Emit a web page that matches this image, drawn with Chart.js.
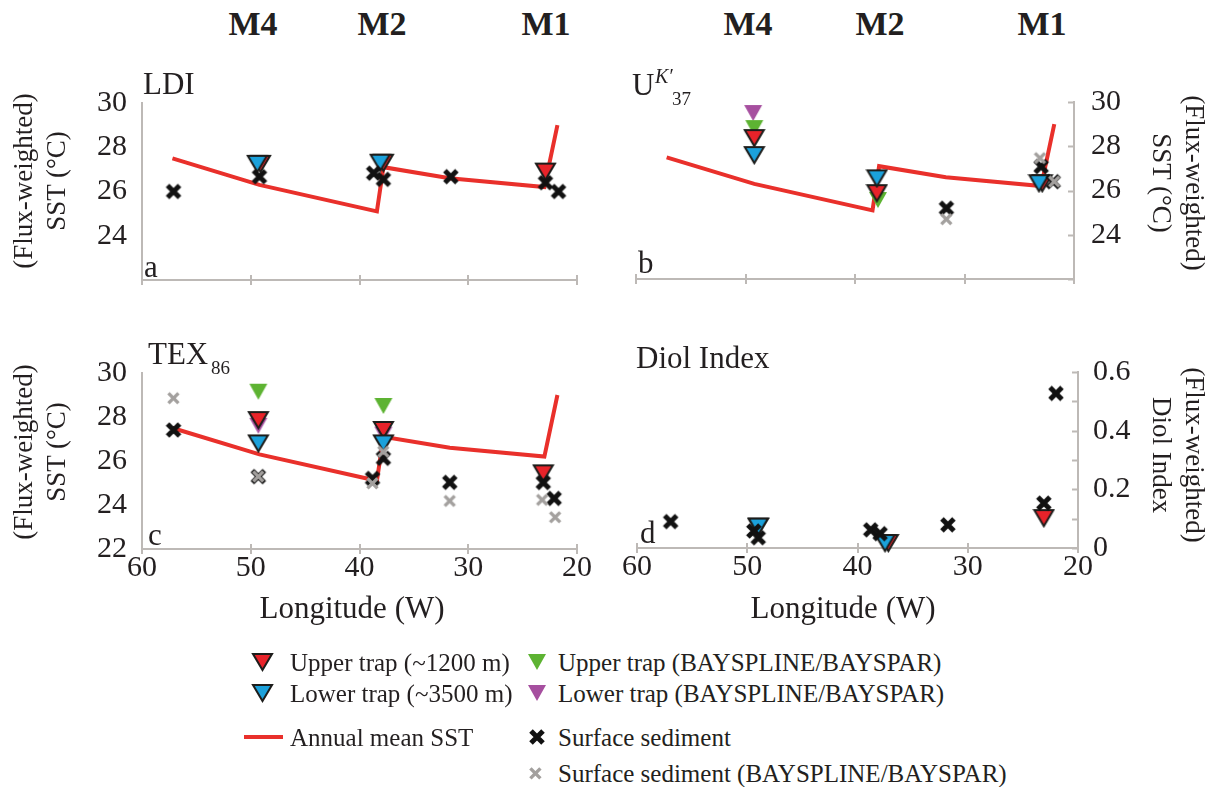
<!DOCTYPE html>
<html>
<head>
<meta charset="utf-8">
<script src="https://cdn.jsdelivr.net/npm/chart.js@4.4.1/dist/chart.umd.min.js"></script>
<style>
  html, body { margin: 0; padding: 0; background: #ffffff; }
  #fig { position: relative; width: 1217px; height: 787px; overflow: hidden; background: #ffffff;
         font-family: "Liberation Serif", "Times New Roman", serif; color: #231f20; }
  .cv { position: absolute; }
  .t { position: absolute; white-space: nowrap; line-height: 1; }
</style>
</head>
<body>
<div id="fig">
  <canvas id="cA" class="cv" width="600" height="240" style="left:0px;top:60px"></canvas>
  <canvas id="cB" class="cv" width="617" height="240" style="left:600px;top:60px"></canvas>
  <canvas id="cC" class="cv" width="600" height="300" style="left:0px;top:330px"></canvas>
  <canvas id="cD" class="cv" width="617" height="300" style="left:600px;top:330px"></canvas>
</div>
<script>
// ---- axis ticks ----
const lonTicks = [60, 50, 40, 30, 20];
const sstTicksAB = [22, 24, 26, 28, 30];
const sstLabelsAB = [24, 26, 28, 30];
const sstTicksC = [22, 24, 26, 28, 30];
const sstLabelsC = [22, 24, 26, 28, 30];
const diolTicks = [0, 0.1, 0.2, 0.3, 0.4, 0.5, 0.6];
const diolLabels = [0, 0.2, 0.4, 0.6];

// ---- annual mean SST along the transect (°W, °C) ----
const sstLon  = [57.2, 49.2, 38.4, 37.8, 31.7, 23.0, 21.8];
const sstMean = [27.5, 26.3, 25.1, 27.1, 26.6, 26.2, 29.0];

// ---- (a) LDI ----
const ldiUpperLon = [49.1, 37.8, 22.9];
const ldiUpper    = [27.25, 27.3, 26.9];
const ldiLowerLon = [49.4, 38.1];
const ldiLower    = [27.25, 27.3];
const ldiSedLon   = [57.1, 49.2, 38.7, 37.8, 31.6, 22.9, 21.7];
const ldiSed      = [26.0, 26.67, 26.83, 26.55, 26.67, 26.4, 26.0];

// ---- (b) UK'37 ----
const ukUpperLon    = [49.2, 38.0, 22.9];
const ukUpper       = [28.37, 25.88, 26.33];
const ukLowerLon    = [49.2, 38.0, 23.2];
const ukLower       = [27.6, 26.55, 26.33];
const ukUpperBayLon = [49.2, 37.9];
const ukUpperBay    = [28.82, 25.57];
const ukLowerBayLon = [49.3];
const ukLowerBay    = [29.5];
const ukSedLon      = [31.65, 23.0, 21.9];
const ukSed         = [25.2, 27.08, 26.4];
const ukSedBayLon   = [31.65, 23.1, 21.8];
const ukSedBay      = [24.7, 27.46, 26.4];

// ---- (c) TEX86 ----
const texUpperLon    = [49.3, 37.8, 23.1];
const texUpper       = [27.86, 27.41, 25.44];
const texLowerLon    = [49.3, 37.8];
const texLower       = [26.8, 26.8];
const texUpperBayLon = [49.3, 37.8];
const texUpperBay    = [29.15, 28.5];
const texLowerBayLon = [49.3, 37.8];
const texLowerBay    = [27.6, 27.2];
const texSedLon      = [57.1, 49.3, 38.8, 37.8, 31.7, 23.1, 22.1];
const texSed         = [27.41, 25.29, 25.21, 26.12, 25.03, 25.02, 24.3];
const texSedBayLon   = [57.1, 49.3, 38.8, 37.8, 31.7, 23.2, 22.0];
const texSedBay      = [28.85, 25.29, 24.98, 26.42, 24.18, 24.23, 23.44];

// ---- (d) Diol index ----
const diolUpperLon = [49.0, 37.2, 23.1];
const diolUpper    = [0.073, 0.017, 0.102];
const diolLowerLon = [49.0, 37.5];
const diolLower    = [0.073, 0.017];
const diolSedLon   = [56.95, 49.4, 49.0, 38.8, 37.95, 31.8, 23.1, 22.0];
const diolSed      = [0.09, 0.058, 0.035, 0.062, 0.049, 0.079, 0.153, 0.527];

// ---- styling ----
const FONT = '"Liberation Serif", "Times New Roman", serif';
const INK = '#231f20';
const AXIS = '#bdb9b6';
const RED = '#e8232a', BLUE = '#1ba1db', GREEN = '#5db332', PURPLE = '#a64f9f', GRAYX = '#a3a09e';
const LINE_RED = '#e9302b';
const TICK_SIZE = 30;

function triMarker(fill, stroke, w, h, lw) {
  const pad = Math.max(lw, 1);
  const c = document.createElement('canvas');
  c.width = Math.round(w + 2 * pad); c.height = Math.round(h + 2 * pad);
  const g = c.getContext('2d');
  g.beginPath();
  g.moveTo(pad, pad); g.lineTo(pad + w, pad); g.lineTo(pad + w / 2, pad + h); g.closePath();
  g.fillStyle = fill; g.fill();
  if (stroke) { g.lineWidth = lw; g.strokeStyle = stroke; g.lineJoin = 'miter'; g.stroke(); }
  return c;
}
function xMarker(color, span, lw) {
  const pad = lw;
  const c = document.createElement('canvas');
  c.width = Math.round(span + 2 * pad); c.height = Math.round(span + 2 * pad);
  const g = c.getContext('2d');
  g.strokeStyle = color; g.lineWidth = lw; g.lineCap = 'butt';
  g.beginPath();
  g.moveTo(pad, pad); g.lineTo(pad + span, pad + span);
  g.moveTo(pad + span, pad); g.lineTo(pad, pad + span);
  g.stroke();
  return c;
}
const MK = {
  upper: triMarker(RED, '#1d1d1b', 19, 16, 2),
  lower: triMarker(BLUE, '#1d1d1b', 19, 16, 2),
  upperBay: triMarker(GREEN, null, 18, 16, 0),
  lowerBay: triMarker(PURPLE, null, 18, 16, 0),
  sed: xMarker('#111111', 12, 5),
  sedBay: xMarker(GRAYX, 10, 3.4)
};

function pts(xs, ys) { return xs.map((x, i) => ({ x: x, y: ys[i] })); }
function markers(label, xs, ys, style, order) {
  return { label, data: pts(xs, ys), pointStyle: style, pointRadius: 8, pointHoverRadius: 8,
           showLine: false, order, clip: false, backgroundColor: 'rgba(0,0,0,0)', borderColor: 'rgba(0,0,0,0)' };
}
function sstLine() {
  return { label: 'Annual mean SST', data: pts(sstLon, sstMean), showLine: true, borderColor: LINE_RED,
           borderWidth: 4, pointRadius: 0, order: 20, tension: 0, clip: false, fill: false };
}

// tick marks: crossing marks on the longitude axis, inward marks on right-hand value axes
const tickMarks = {
  id: 'tickMarks',
  beforeDatasetsDraw(chart, args, opts) {
    const ctx = chart.ctx, xs = chart.scales.x, ys = chart.scales.y, a = chart.chartArea;
    ctx.save();
    ctx.strokeStyle = AXIS; ctx.lineWidth = 2;
    ctx.beginPath();
    xs.ticks.forEach((t, i) => {
      const px = Math.round(xs.getPixelForTick(i));
      ctx.moveTo(px, a.bottom - 5); ctx.lineTo(px, a.bottom + 5);
    });
    if (opts.yIn) {
      ys.ticks.forEach((t, i) => {
        const py = Math.round(ys.getPixelForTick(i)) + 0.5;
        ctx.moveTo(a.right - opts.yIn, py); ctx.lineTo(a.right, py);
      });
    }
    ctx.stroke();
    ctx.restore();
  }
};

// fixed axis boxes so that every panel's plot area sits at a set place
function xScale(showLabels, h) {
  return {
    type: 'linear', min: 20, max: 60, reverse: true,
    afterBuildTicks: s => { s.ticks = lonTicks.map(v => ({ value: v })); },
    ticks: { display: showLabels, padding: 1, color: INK, font: { family: FONT, size: TICK_SIZE },
             maxRotation: 0, autoSkip: false, callback: v => String(v) },
    grid: { display: false, drawTicks: false },
    border: { display: true, color: AXIS, width: 2 },
    afterFit: s => { s.height = h; s.paddingLeft = 0; s.paddingRight = 0; s.paddingTop = 0; s.paddingBottom = 0; }
  };
}
function yScale(pos, min, max, tickVals, labelVals, fmt, w, pad) {
  return {
    type: 'linear', position: pos, min, max,
    afterBuildTicks: s => { s.ticks = tickVals.map(v => ({ value: v })); },
    ticks: { display: true, padding: pad, color: INK, font: { family: FONT, size: TICK_SIZE }, autoSkip: false,
             callback: v => labelVals.some(l => Math.abs(l - v) < 1e-9) ? fmt(v) : '' },
    grid: { display: false, drawTicks: false },
    border: { display: true, color: AXIS, width: 2 },
    afterFit: s => { s.width = w; s.paddingLeft = 0; s.paddingRight = 0; s.paddingTop = 0; s.paddingBottom = 0; }
  };
}
function makeChart(id, datasets, scales, padding, yIn) {
  return new Chart(document.getElementById(id), {
    type: 'scatter',
    data: { datasets },
    options: {
      responsive: false, animation: false, devicePixelRatio: 1, events: [],
      layout: { padding, autoPadding: false },
      plugins: { legend: { display: false }, tooltip: { enabled: false }, tickMarks: { yIn } },
      scales
    },
    plugins: [tickMarks]
  });
}

const fmtInt = v => String(v);
const fmtDiol = v => (v === 0 ? '0' : v.toFixed(1));

// (a) LDI
makeChart('cA', [
  sstLine(),
  markers('Upper trap (~1200 m)', ldiUpperLon, ldiUpper, MK.upper, 6),
  markers('Lower trap (~3500 m)', ldiLowerLon, ldiLower, MK.lower, 5),
  markers('Surface sediment', ldiSedLon, ldiSed, MK.sed, 2)
], { x: xScale(false, 20), y: yScale('left', 22, 30, sstTicksAB, sstLabelsAB, fmtInt, 142, 15) },
   { top: 43, right: 23, left: 0, bottom: 0 }, 0);

// (b) UK'37
makeChart('cB', [
  sstLine(),
  markers('Lower trap (BAYSPLINE/BAYSPAR)', ukLowerBayLon, ukLowerBay, MK.lowerBay, 9),
  markers('Upper trap (BAYSPLINE/BAYSPAR)', ukUpperBayLon, ukUpperBay, MK.upperBay, 8),
  markers('Upper trap (~1200 m)', ukUpperLon, ukUpper, MK.upper, 6),
  markers('Lower trap (~3500 m)', ukLowerLon, ukLower, MK.lower, 5),
  markers('Surface sediment', ukSedLon, ukSed, MK.sed, 2),
  markers('Surface sediment (BAYSPLINE/BAYSPAR)', ukSedBayLon, ukSedBay, MK.sedBay, 1)
], { x: xScale(false, 21), y: yScale('right', 22, 30, sstTicksAB, sstLabelsAB, fmtInt, 143, 17) },
   { top: 42, right: 0, left: 36, bottom: 0 }, 6);

// (c) TEX86
makeChart('cC', [
  sstLine(),
  markers('Lower trap (BAYSPLINE/BAYSPAR)', texLowerBayLon, texLowerBay, MK.lowerBay, 9),
  markers('Upper trap (BAYSPLINE/BAYSPAR)', texUpperBayLon, texUpperBay, MK.upperBay, 8),
  markers('Upper trap (~1200 m)', texUpperLon, texUpper, MK.upper, 6),
  markers('Lower trap (~3500 m)', texLowerLon, texLower, MK.lower, 5),
  markers('Surface sediment', texSedLon, texSed, MK.sed, 2),
  markers('Surface sediment (BAYSPLINE/BAYSPAR)', texSedBayLon, texSedBay, MK.sedBay, 1)
], { x: xScale(true, 81), y: yScale('left', 22, 30, sstTicksC, sstLabelsC, fmtInt, 142, 15) },
   { top: 43, right: 23, left: 0, bottom: 0 }, 0);

// (d) Diol index
makeChart('cD', [
  markers('Upper trap (~1200 m)', diolUpperLon, diolUpper, MK.upper, 6),
  markers('Lower trap (~3500 m)', diolLowerLon, diolLower, MK.lower, 5),
  markers('Surface sediment', diolSedLon, diolSed, MK.sed, 2)
], { x: xScale(true, 82), y: yScale('right', 0, 0.6, diolTicks, diolLabels, fmtDiol, 139, 15) },
   { top: 42, right: 0, left: 37, bottom: 0 }, 6);

// ---- text ----
const fig = document.getElementById('fig');
function txt(s, o) {
  const el = document.createElement('div');
  el.className = 't';
  el.textContent = s;
  el.style.fontSize = o.size + 'px';
  if (o.bold) el.style.fontWeight = 'bold';
  if (o.italic) el.style.fontStyle = 'italic';
  if (o.baseline !== undefined) {
    // left edge + baseline placement
    el.style.left = o.x + 'px';
    el.style.top = (o.baseline - 0.8375 * o.size) + 'px';
    if (o.center) el.style.transform = 'translateX(-50%)';
  } else {
    el.style.left = o.x + 'px';
    el.style.top = o.y + 'px';
    let tr = o.left ? 'translate(0,-50%)' : 'translate(-50%,-50%)';
    if (o.rot) tr += ' rotate(' + o.rot + 'deg)';
    el.style.transform = tr;
  }
  fig.appendChild(el);
  return el;
}

// mooring labels
[['M4', 253], ['M2', 382], ['M1', 546], ['M4', 748], ['M2', 880], ['M1', 1042]].forEach(([s, x]) =>
  txt(s, { x, baseline: 35, size: 34, bold: true, center: true }));

// panel titles
txt('LDI', { x: 143, baseline: 94, size: 31 });
txt('U', { x: 632, baseline: 95, size: 31 });
txt('K\u2032', { x: 655, baseline: 83, size: 20, italic: true });
txt('37', { x: 672, baseline: 105, size: 19 });
txt('TEX', { x: 148, baseline: 364, size: 31 });
txt('86', { x: 211, baseline: 374, size: 19 });
txt('Diol Index', { x: 636, baseline: 368, size: 31 });

// panel letters
txt('a', { x: 144, baseline: 277, size: 31 });
txt('b', { x: 638, baseline: 273, size: 31 });
txt('c', { x: 148, baseline: 545, size: 31 });
txt('d', { x: 640, baseline: 543, size: 31 });

// axis titles
txt('(Flux-weighted)', { x: 23, y: 181, size: 27, rot: -90 });
txt('SST (\u00B0C)', { x: 56, y: 181, size: 27, rot: -90 });
txt('(Flux-weighted)', { x: 23, y: 452, size: 27, rot: -90 });
txt('SST (\u00B0C)', { x: 56, y: 452, size: 27, rot: -90 });
txt('(Flux-weighted)', { x: 1194, y: 183, size: 27, rot: 90 });
txt('SST (\u00B0C)', { x: 1161, y: 183, size: 27, rot: 90 });
txt('(Flux-weighted)', { x: 1194, y: 455, size: 27, rot: 90 });
txt('Diol Index', { x: 1161, y: 455, size: 27, rot: 90 });
txt('Longitude (W)', { x: 352, y: 607, size: 31 });
txt('Longitude (W)', { x: 843, y: 607, size: 31 });

// ---- legend ----
function legendMarker(src, cx, cy) {
  const c = document.createElement('canvas');
  c.width = src.width; c.height = src.height;
  c.getContext('2d').drawImage(src, 0, 0);
  c.style.position = 'absolute';
  c.style.left = Math.round(cx - src.width / 2) + 'px';
  c.style.top = Math.round(cy - src.height / 2) + 'px';
  fig.appendChild(c);
}
function legendLine(x0, x1, cy) {
  const c = document.createElement('canvas');
  c.width = x1 - x0; c.height = 6;
  const g = c.getContext('2d');
  g.fillStyle = LINE_RED; g.fillRect(0, 1, x1 - x0, 4);
  c.style.position = 'absolute'; c.style.left = x0 + 'px'; c.style.top = (cy - 3) + 'px';
  fig.appendChild(c);
}
const LEG = 25;
const legendRows = [662, 693, 737, 773];
legendMarker(MK.upper, 262, legendRows[0]);
txt('Upper trap (~1200 m)', { x: 290, y: legendRows[0], size: LEG, left: true });
legendMarker(MK.lower, 262, legendRows[1]);
txt('Lower trap (~3500 m)', { x: 290, y: legendRows[1], size: LEG, left: true });
legendLine(244, 283, legendRows[2]);
txt('Annual mean SST', { x: 290, y: legendRows[2], size: LEG, left: true });
legendMarker(MK.upperBay, 537, legendRows[0]);
txt('Upper trap (BAYSPLINE/BAYSPAR)', { x: 558, y: legendRows[0], size: LEG, left: true });
legendMarker(MK.lowerBay, 537, legendRows[1]);
txt('Lower trap (BAYSPLINE/BAYSPAR)', { x: 558, y: legendRows[1], size: LEG, left: true });
legendMarker(MK.sed, 537, legendRows[2]);
txt('Surface sediment', { x: 558, y: legendRows[2], size: LEG, left: true });
legendMarker(MK.sedBay, 535, legendRows[3]);
txt('Surface sediment (BAYSPLINE/BAYSPAR)', { x: 558, y: legendRows[3], size: LEG, left: true });
</script>
</body>
</html>
